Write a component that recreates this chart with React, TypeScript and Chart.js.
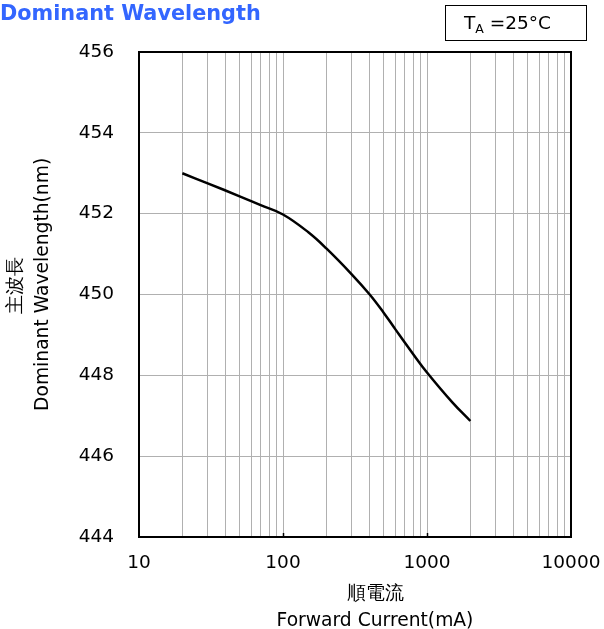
import React, { useEffect, useRef } from "react";
import { Chart, registerables } from "chart.js";

Chart.register(...registerables);

const currents = [20, 30, 50, 70, 100, 150, 200, 300, 400, 500, 600, 800, 1000, 1500, 2000];
const wavelengths = [453.0, 452.75, 452.43, 452.21, 451.98, 451.54, 451.14, 450.5, 450.0, 449.55, 449.15, 448.53, 448.07, 447.33, 446.87];

const xGridValues = [
  10, 20, 30, 40, 50, 60, 70, 80, 90,
  100, 200, 300, 400, 500, 600, 700, 800, 900,
  1000, 2000, 3000, 4000, 5000, 6000, 7000, 8000, 9000,
  10000,
];
const xTickLabels = ["10", "100", "1000", "10000"];
const yTickValues = [444, 446, 448, 450, 452, 454, 456];

const chartTitle = "Dominant Wavelength";
const xTitle = ["順電流", "Forward Current(mA)"];
const yTitle = ["主波長", "Dominant Wavelength(nm)"];

const FONT = "'DejaVu Sans', Verdana, sans-serif";
const TITLE_SIZE = 18.7;
const TITLE_LH = 26.7;

const framePlugin = {
  id: "frame",
  afterDraw(chart: any) {
    const { ctx, chartArea } = chart;
    const { left, top, right, bottom } = chartArea;
    ctx.save();
    ctx.strokeStyle = "#000";
    ctx.lineWidth = 1.5;
    const xs = chart.scales.x;
    [100, 1000].forEach((v) => {
      const px = Math.round(xs.getPixelForValue(v)) + 0.5;
      ctx.beginPath();
      ctx.moveTo(px, bottom);
      ctx.lineTo(px, bottom - 4);
      ctx.stroke();
    });
    ctx.lineWidth = 2;
    ctx.strokeRect(left, top, right - left, bottom - top);
    ctx.restore();
  },
};

export default function App() {
  const ref = useRef<HTMLCanvasElement>(null);

  useEffect(() => {
    if (!ref.current) return;
    const chart = new Chart(ref.current, {
      type: "line",
      data: {
        datasets: [
          {
            data: currents.map((c, i) => ({ x: c, y: wavelengths[i] })),
            borderColor: "#000",
            borderWidth: 2.5,
            pointRadius: 0,
            tension: 0.4,
            fill: false,
          },
        ],
      },
      options: {
        animation: false,
        responsive: false,
        devicePixelRatio: 1,
        layout: { padding: { left: 0, top: 52, right: 33, bottom: 0 } },
        plugins: { legend: { display: false }, tooltip: { enabled: false } },
        scales: {
          x: {
            type: "logarithmic",
            min: 10,
            max: 10000,
            afterFit: (s: any) => {
              s.height = 92;
              s.paddingLeft = 0;
              s.paddingRight = 0;
            },
            afterBuildTicks: (s: any) => {
              s.ticks = xGridValues.map((v) => ({ value: v }));
            },
            grid: { color: "#b0b0b0", lineWidth: 1, drawTicks: false },
            border: { display: false },
            ticks: {
              autoSkip: false,
              maxRotation: 0,
              padding: 15,
              color: "#000",
              font: { family: FONT, size: 18.5 },
              callback: (v: any) => {
                const s = String(v);
                return xTickLabels.includes(s) ? s : "";
              },
            },
          },
          y: {
            type: "linear",
            min: 444,
            max: 456,
            afterFit: (s: any) => {
              s.width = 139;
              s.paddingTop = 0;
              s.paddingBottom = 0;
            },
            afterBuildTicks: (s: any) => {
              s.ticks = yTickValues.map((v) => ({ value: v }));
            },
            grid: { color: "#b0b0b0", lineWidth: 1, drawTicks: false },
            border: { display: false },
            ticks: {
              padding: 25,
              color: "#000",
              font: { family: FONT, size: 18.5 },
            },
          },
        },
      },
      plugins: [framePlugin],
    } as any);
    return () => chart.destroy();
  }, []);

  const titleLine = (text: string, cx: number, cy: number, rotate: boolean) => (
    <div
      key={text}
      style={{
        position: "absolute",
        left: cx - 160,
        top: cy - TITLE_LH / 2,
        width: 320,
        height: TITLE_LH,
        lineHeight: `${TITLE_LH}px`,
        textAlign: "center",
        fontFamily: FONT,
        fontSize: TITLE_SIZE,
        color: "#000",
        whiteSpace: "nowrap",
        transform: rotate ? "rotate(-90deg)" : undefined,
        transformOrigin: "50% 50%",
      }}
    >
      {text}
    </div>
  );

  return (
    <div style={{ position: "absolute", left: 0, top: 0, width: 604, height: 629, background: "#fff", overflow: "hidden" }}>
      <canvas ref={ref} width={604} height={629} style={{ position: "absolute", left: 0, top: 0 }} />
      <div
        style={{
          position: "absolute",
          left: 0,
          top: 1,
          fontFamily: FONT,
          fontWeight: "bold",
          fontSize: 20.8,
          color: "#3366ff",
          whiteSpace: "nowrap",
          lineHeight: "24px",
        }}
      >
        {chartTitle}
      </div>
      <div
        style={{
          position: "absolute",
          left: 445,
          top: 5,
          width: 142,
          height: 36,
          border: "1px solid #000",
          fontFamily: FONT,
          fontSize: 18.5,
          color: "#000",
          boxSizing: "border-box",
          whiteSpace: "nowrap",
        }}
      >
        <span style={{ position: "absolute", left: 18, top: 5, lineHeight: "24px" }}>
          T<sub style={{ fontSize: 12.5, verticalAlign: "-4px" }}>A</sub> =25°C
        </span>
      </div>
      {titleLine(xTitle[0], 375, 593, false)}
      {titleLine(xTitle[1], 375, 620, false)}
      {titleLine(yTitle[0], 15, 285, true)}
      {titleLine(yTitle[1], 41.7, 284, true)}
    </div>
  );
}
